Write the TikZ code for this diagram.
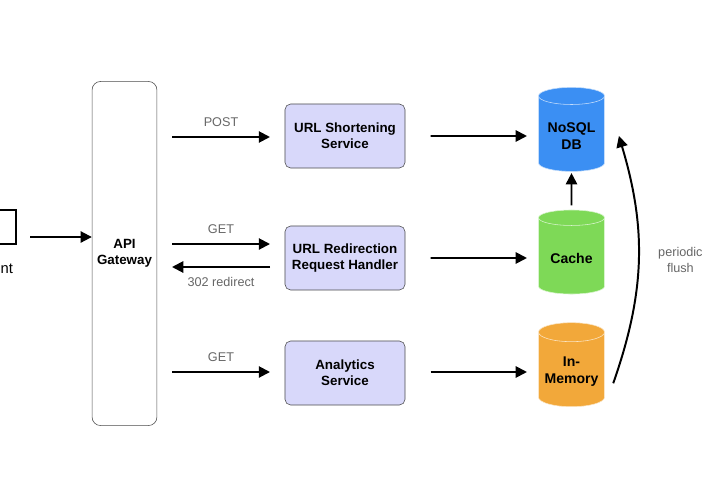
\documentclass[tikz,border=0pt]{standalone}
\usepackage{fontspec}
\setmainfont{Liberation Sans}
\usetikzlibrary{shapes.geometric,arrows.meta}
\definecolor{svcfill}{HTML}{D8D8FA}
\definecolor{dbblue}{HTML}{3B8FF3}
\definecolor{cachegreen}{HTML}{7ED957}
\definecolor{memorange}{HTML}{F2A83A}
\definecolor{lbl}{HTML}{666666}
\tikzset{
  svc/.style={draw=black!70, fill=svcfill, rounded corners=4pt, minimum width=3cm, minimum height=1.6cm, align=center, font=\fontsize{9.5}{11.5}\selectfont\bfseries},
  store/.style={cylinder, shape border rotate=90, aspect=0.3, minimum width=1.65cm, minimum height=2.1cm, align=center, font=\fontsize{10}{12}\selectfont\bfseries, draw=white!70!#1, fill=#1},
  flow/.style={-{Triangle[length=8pt,width=8pt]}, line width=1.4pt},
  tag/.style={font=\fontsize{9}{11}\selectfont, text=lbl, align=center}
}
\begin{document}
\begin{tikzpicture}[x=0.025cm, y=-0.025cm]
  \useasboundingbox (0,0) rectangle (720,500);
  % client
  \draw[line width=2pt] (-10,210) rectangle (16,244);
  \node[font=\fontsize{10.5}{12}\selectfont] (client) at (-6,268) {Client};
  \coordinate (clientout) at (30,237);
  % gateway
  \node[draw=black!70, rounded corners=6pt, minimum width=1.62cm, minimum height=8.6cm, align=center, font=\fontsize{9.5}{11.5}\selectfont\bfseries] (gw) at (124.5,253.5) {API\\Gateway};
  % services
  \node[svc] (shorten) at (345,136) {URL Shortening\\Service};
  \node[svc] (redirect) at (345,258) {URL Redirection\\Request Handler};
  \node[svc] (analytics) at (345,373) {Analytics\\Service};
  % stores
  \node[store=dbblue] (nosql) at (571.5,136) {NoSQL\\DB};
  \node[store=cachegreen] (cache) at (571.5,258) {Cache};
  \node[store=memorange] (mem) at (571.5,372) {In-\\Memory};
  % endpoints of the gateway arrows
  \coordinate (p0) at (172,137); \coordinate (p1) at (270,137);
  \coordinate (g0) at (172,244); \coordinate (g1) at (270,244);
  \coordinate (r0) at (270,267); \coordinate (r1) at (172,267);
  \coordinate (a0) at (172,372); \coordinate (a1) at (270,372);

  \draw[flow] (clientout) -- (gw.west |- clientout);
  \draw[flow] (p0) -- node[tag, above=3pt] {POST} (p1);
  \draw[flow] (g0) -- node[tag, above=3pt] {GET} (g1);
  \draw[flow] (r0) -- node[tag, below=3pt] {302 redirect} (r1);
  \draw[flow] (a0) -- node[tag, above=3pt] {GET} (a1);
  \draw[flow] ([xshift=18pt]shorten.east) -- ([xshift=-8pt]nosql.west);
  \draw[flow] ([xshift=18pt]redirect.east) -- ([xshift=-8pt]cache.west);
  \draw[flow] ([xshift=18pt]analytics.east |- mem.west) -- ([xshift=-8pt]mem.west);
  \draw[flow] ([yshift=3pt]cache.north) -- ([yshift=-1pt]nosql.south);
  \draw[flow] ([xshift=6pt,yshift=-8pt]mem.east) to[bend right=18] node[tag, right=10pt] {periodic\\flush} ([xshift=10pt]nosql.east);
\end{tikzpicture}
\end{document}
